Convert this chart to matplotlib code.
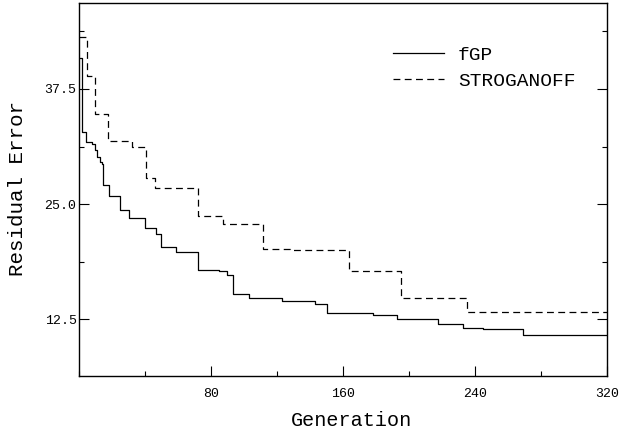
import matplotlib
matplotlib.use("Agg")
import matplotlib.pyplot as plt
from matplotlib.ticker import MultipleLocator

# fGP step curve (generation where value changes, residual error)
fgp_gen = [0, 1.8, 4.1, 7.5, 9.5, 10.9, 12.5, 14.0, 14.5, 17.7, 24.8, 30.1, 39.8, 46.5,
           49.5, 58.6, 71.9, 84.6, 89.3, 92.9, 102.8, 123.0, 142.8, 150.0, 178.2,
           192.4, 217.6, 232.4, 244.8, 268.7, 320]
fgp_err = [40.9, 32.8, 31.7, 31.5, 30.9, 30.1, 29.6, 29.4, 27.1, 25.9, 24.4, 23.5, 22.4, 21.8,
           20.3, 19.8, 17.9, 17.8, 17.3, 15.25, 14.8, 14.45, 14.2, 13.2, 13.0,
           12.5, 12.0, 11.6, 11.45, 10.85, 10.85]

# STROGANOFF step curve
strog_gen = [0, 4.5, 9.7, 17.6, 32.1, 40.2, 45.9, 72.0, 87.3, 111.2, 127.7, 163.2, 194.8, 234.8, 320]
strog_err = [43.1, 38.9, 34.8, 31.9, 31.15, 27.8, 26.8, 23.7, 22.9, 20.15, 20.05, 17.7, 14.85, 13.3, 13.3]

xticks = [80, 160, 240, 320]
yticks = [12.5, 25.0, 37.5]

font = "Liberation Mono"

fig = plt.figure(figsize=(6.25, 4.33), dpi=100)
ax = fig.add_axes([0.127, 0.1305, 0.8447, 0.862])

ax.step(fgp_gen, fgp_err, where="post", color="black", lw=0.9, label="fGP")
ax.step(strog_gen, strog_err, where="post", color="black", lw=0.9,
        linestyle=(0, (5.5, 3.5)), label="STROGANOFF")

ax.set_xlim(0, 320)
ax.set_ylim(6.3, 46.8)
ax.xaxis.set_minor_locator(MultipleLocator(40))
ax.yaxis.set_minor_locator(MultipleLocator(6.25))
ax.set_xticks(xticks)
ax.set_xticklabels([str(t) for t in xticks])
ax.set_yticks(yticks)
ax.set_yticklabels(["%.1f" % t for t in yticks])

ax.tick_params(which="major", direction="in", length=7, width=0.8, right=True, top=False,
               labelsize=9.5)
ax.tick_params(axis="x", which="major", pad=8)
ax.tick_params(axis="y", which="major", pad=2)
ax.tick_params(which="minor", direction="in", length=3.5, width=0.8, right=True, top=False)
for lab in ax.get_xticklabels() + ax.get_yticklabels():
    lab.set_fontfamily(font)

for s in ax.spines.values():
    s.set_linewidth(1.0)

ax.set_xlabel("Generation", fontfamily=font, fontsize=14.5)
ax.set_ylabel("Residual Error", fontfamily=font, fontsize=15)
ax.xaxis.set_label_coords(0.516, -0.092)
ax.yaxis.set_label_coords(-0.100, 0.505)

ax.legend(loc="upper left", bbox_to_anchor=(0.594, 0.885), frameon=False,
          prop={"family": font, "size": 14}, handlelength=2.6,
          handletextpad=0.75, labelspacing=0.45, borderpad=0, borderaxespad=0)

fig.savefig("out.png", dpi=100)
